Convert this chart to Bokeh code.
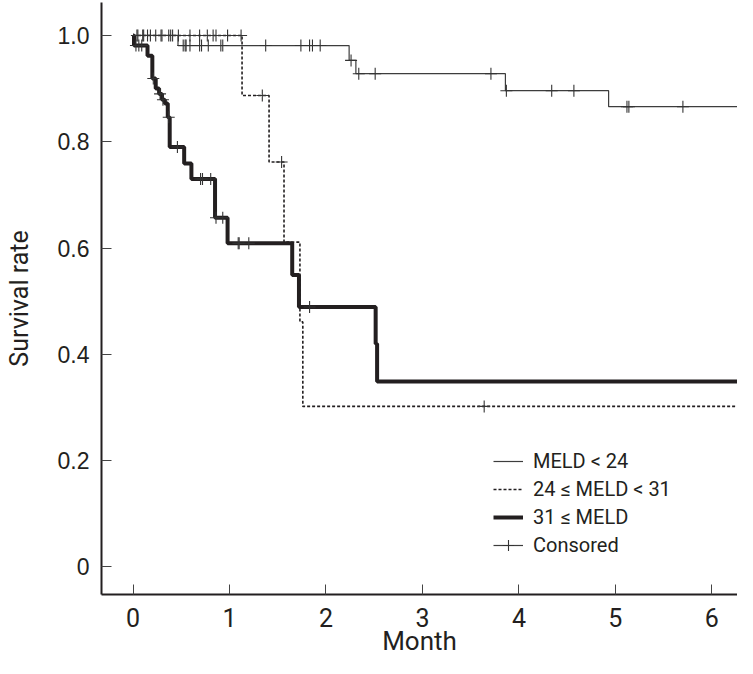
import numpy as np
from bokeh.plotting import figure
from bokeh.models import Range1d, FixedTicker, Legend, LegendItem
from bokeh.embed import file_html
from bokeh.resources import INLINE

# ---- data ----
low_t = [0, 0.466, 2.24, 2.31, 3.86, 4.93, 6.30]
low_s = [1.0, 0.981, 0.953, 0.928, 0.896, 0.866, 0.866]

mid_t = [0, 1.13, 1.41, 1.565, 1.73, 1.76, 6.28]
mid_s = [1.0, 0.887, 0.762, 0.611, 0.461, 0.302, 0.302]

high_t = [0, 0.01, 0.15, 0.20, 0.235, 0.27, 0.30, 0.33, 0.36, 0.38, 0.53, 0.605,
          0.85, 0.98, 1.65, 1.72, 2.515, 2.53, 6.28]
high_s = [1.0, 0.981, 0.962, 0.919, 0.90, 0.89, 0.879, 0.872, 0.846, 0.79, 0.759, 0.730,
          0.657, 0.609, 0.549, 0.489, 0.42, 0.349, 0.349]

low_ct = [0.05, 0.10, 0.18, 0.29, 0.52, 0.54, 0.55, 0.59, 0.69, 0.71, 0.78, 0.91, 0.93,
          1.375, 1.74, 1.83, 1.86, 1.94, 2.26, 2.34, 2.51, 3.71, 3.87, 4.34, 4.57,
          5.12, 5.14, 5.70]
low_cs = [1.0, 1.0, 1.0, 1.0,
          0.981, 0.981, 0.981, 0.981, 0.981, 0.981, 0.981, 0.981, 0.981,
          0.981, 0.981, 0.981, 0.981, 0.981, 0.953, 0.928, 0.928, 0.928, 0.896, 0.896, 0.896,
          0.866, 0.866, 0.866]

mid_ct = [0.04, 0.11, 0.15, 0.235, 0.30, 0.37, 0.39, 0.41, 0.47, 0.59, 0.69, 0.77, 0.83,
          0.86, 0.98, 1.12, 1.34, 1.54, 3.64]
mid_cs = [1.0] * 16 + [0.887, 0.762, 0.302]

high_ct = [0.03, 0.06, 0.09, 0.21, 0.28, 0.31, 0.37, 0.46, 0.70, 0.72, 0.805, 0.86, 0.93,
           1.09, 1.10, 1.20, 1.83]
high_cs = [0.981, 0.981, 0.981, 0.919, 0.89, 0.879, 0.846, 0.79, 0.730, 0.730, 0.730,
           0.657, 0.657, 0.609, 0.609, 0.609, 0.489]

x_ticks = [0, 1, 2, 3, 4, 5, 6]
y_ticks = [0, 0.2, 0.4, 0.6, 0.8, 1.0]
y_tick_labels = ["0", "0.2", "0.4", "0.6", "0.8", "1.0"]

series_labels = ["MELD < 24", "24 \u2264 MELD < 31", "31 \u2264 MELD", "Consored"]
x_title = "Month"
y_title = "Survival rate"

NARROW = "Roboto"
REG = "Liberation Sans"
INK = "#231f20"

p = figure(width=737, height=658, output_backend="svg", toolbar_location=None,
           x_range=Range1d(-0.327, 6.266), y_range=Range1d(-0.052, 1.062),
           min_border_left=101, min_border_right=0, min_border_top=2, min_border_bottom=64)
p.outline_line_color = None
p.grid.visible = False
p.background_fill_color = "white"
p.border_fill_color = "white"

# curves
r_low = p.step(low_t, low_s, mode="after", line_color="#3d3d3d", line_width=1.2)
r_mid = p.step(mid_t, mid_s, mode="after", line_color=INK, line_width=1.6, line_dash="3 2")
r_high = p.step(high_t, high_s, mode="after", line_color=INK, line_width=4)

# censor marks
cens_kw = dict(marker="cross", size=12, line_color="#333333", line_width=1.1)
r_c1 = p.scatter(low_ct, low_cs, **cens_kw)
r_c2 = p.scatter(mid_ct, mid_cs, **cens_kw)
r_c3 = p.scatter(high_ct, high_cs, **cens_kw)

# axes
for ax in (p.xaxis[0], p.yaxis[0]):
    ax.axis_line_color = INK
    ax.axis_line_width = 2
    ax.major_tick_in = 10
    ax.major_tick_out = 0
    ax.major_tick_line_color = "#444444"
    ax.major_tick_line_width = 1
    ax.minor_tick_line_color = None
    ax.major_label_text_color = INK
    ax.axis_label_text_color = INK
    ax.axis_label_text_font_style = "normal"

p.xaxis.ticker = FixedTicker(ticks=x_ticks)
p.xaxis.major_label_text_font = NARROW
p.xaxis.major_label_text_font_size = "25px"
p.xaxis.major_label_standoff = 13
p.xaxis.axis_label = x_title
p.xaxis.axis_label_text_font = NARROW
p.xaxis.axis_label_text_font_size = "26px"
p.xaxis.axis_label_standoff = -4

p.yaxis.ticker = FixedTicker(ticks=y_ticks)
p.yaxis.major_label_overrides = {v: s for v, s in zip(y_ticks, y_tick_labels)}
p.yaxis.major_label_text_font = REG
p.yaxis.major_label_text_font_size = "23px"
p.yaxis.major_label_standoff = 12
p.yaxis.axis_label = y_title
p.yaxis.axis_label_text_font = NARROW
p.yaxis.axis_label_text_font_size = "25px"
p.yaxis.axis_label_standoff = 21

legend = Legend(items=[
    LegendItem(label=series_labels[0], renderers=[r_low]),
    LegendItem(label=series_labels[1], renderers=[r_mid]),
    LegendItem(label=series_labels[2], renderers=[r_high]),
    LegendItem(label=series_labels[3], renderers=[r_low, r_c1]),
], location=(392, 35), orientation="vertical")
legend.background_fill_alpha = 0
legend.border_line_color = None
legend.padding = 0
legend.margin = 0
legend.spacing = 0
legend.glyph_width = 30
legend.glyph_height = 28
legend.label_height = 28
legend.label_standoff = 10
legend.label_text_font = NARROW
legend.label_text_font_size = "20px"
legend.label_text_color = INK
p.add_layout(legend)

open("out.html", "w").write(file_html(p, INLINE))
